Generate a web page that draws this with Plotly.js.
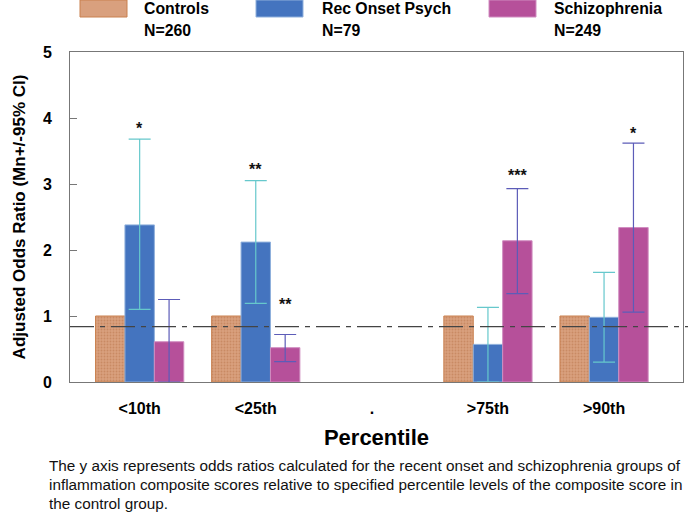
<!DOCTYPE html>
<html>
<head>
<meta charset="utf-8">
<script src="https://cdn.plot.ly/plotly-3.0.1.min.js"></script>
<style>
  html, body { margin: 0; padding: 0; background: #fff; }
  #chart { width: 688px; height: 512px; }
</style>
</head>
<body>
<div id="chart"></div>
<script>
// percentile categories
var categories = ['<10th', '<25th', '.', '>75th', '>90th'];
var catPos = [0, 1, 2, 3, 4];

// adjusted odds ratios (controls are the reference = 1)
var controlsOR = [1.0, 1.0, null, 1.0, 1.0];
var recOnsetOR = [2.38, 2.12, null, 0.57, 0.98];
var recOnsetHi = [3.68, 3.05, null, 1.13, 1.66];
var recOnsetLo = [1.10, 1.19, null, 0.0, 0.30];
var schizOR = [0.61, 0.52, null, 2.14, 2.34];
var schizHi = [1.25, 0.72, null, 2.93, 3.62];
var schizLo = [0.0, 0.31, null, 1.34, 1.06];

// significance stars: [category, series, label, y]
var starCat = [0, 1, 1, 3, 4];
var starSeries = [1, 1, 2, 2, 2];
var starText = ['*', '**', '**', '***', '*'];
var starY = [3.84, 3.22, 1.18, 3.13, 3.76];

var refLine = 0.84;

var legendNames = ['Controls', 'Rec Onset Psych', 'Schizophrenia'];
var legendN = ['N=260', 'N=79', 'N=249'];

var captionLines = [
	'The y axis represents odds ratios calculated for the recent onset and schizophrenia groups of',
	'inflammation composite scores relative to specified percentile levels of the composite score in',
	'the control group.'
];

var colControls = '#d9a07e';
var colRec = '#4474bf';
var colSchiz = '#b6509a';
var fontFam = '"Liberation Sans", Arial, sans-serif';

function diff(a, b, up) {
	var out = [];
	for (var i = 0; i < a.length; i++) {
		if (a[i] === null) { out.push(null); continue; }
		out.push(up ? b[i] - a[i] : a[i] - b[i]);
	}
	return out;
}

var data = [
	{
		x: catPos, y: controlsOR, type: 'bar', name: 'Controls',
		marker: {
			color: colControls,
			line: {color: '#c9804f', width: 1},
			pattern: {shape: '.', fgcolor: '#c98a63', bgcolor: colControls, size: 3, solidity: 0.3}
		}
	},
	{
		x: catPos, y: recOnsetOR, type: 'bar', name: 'Rec Onset Psych',
		marker: {color: colRec, line: {color: '#8fb0dc', width: 1}},
		error_y: {
			type: 'data', symmetric: false,
			array: diff(recOnsetOR, recOnsetHi, true),
			arrayminus: diff(recOnsetOR, recOnsetLo, false),
			color: '#66c8cc', thickness: 1.2, width: 11
		}
	},
	{
		x: catPos, y: schizOR, type: 'bar', name: 'Schizophrenia',
		marker: {color: colSchiz, line: {color: '#d08cc0', width: 1}},
		error_y: {
			type: 'data', symmetric: false,
			array: diff(schizOR, schizHi, true),
			arrayminus: diff(schizOR, schizLo, false),
			color: '#5c5cb8', thickness: 1.2, width: 11
		}
	}
];

var barW = 0.76 / 3;
var annotations = [];
for (var s = 0; s < starCat.length; s++) {
	annotations.push({
		x: starCat[s] + (starSeries[s] - 1) * barW, y: starY[s],
		xref: 'x', yref: 'y', text: '<b>' + starText[s] + '</b>', showarrow: false,
		font: {family: fontFam, size: 16, color: '#111'}
	});
}

// legend drawn at the top
var swatchX = [80, 256, 489];
var textX = [142, 320, 552];
var swatchCols = [colControls, colRec, colSchiz];
var swatchLines = ['#c9804f', '#8fb0dc', '#d08cc0'];
var shapes = [];
for (var k = 0; k < 3; k++) {
	shapes.push({
		type: 'rect', xref: 'paper', yref: 'paper', layer: 'above',
		x0: (swatchX[k] - 70) / 613, x1: (swatchX[k] + 47 - 70) / 613,
		y0: (382 - 17) / 330, y1: 382 / 330,
		fillcolor: swatchCols[k], line: {color: swatchLines[k], width: 1}
	});
	annotations.push({
		xref: 'paper', yref: 'paper', x: (textX[k] - 70) / 613, y: (382 - 9) / 330,
		xanchor: 'left', yanchor: 'middle', text: '<b>' + legendNames[k] + '</b>',
		showarrow: false, font: {family: fontFam, size: 15.8, color: '#000'}
	});
	annotations.push({
		xref: 'paper', yref: 'paper', x: (textX[k] - 70) / 613, y: (382 - 30) / 330,
		xanchor: 'left', yanchor: 'middle', text: '<b>' + legendN[k] + '</b>',
		showarrow: false, font: {family: fontFam, size: 15.8, color: '#000'}
	});
}

// reference dash-dot line
shapes.push({
	type: 'line', xref: 'paper', yref: 'y', x0: 0, x1: 618 / 613,
	y0: refLine, y1: refLine, layer: 'above',
	line: {color: '#444', width: 1.2, dash: '24px,6px,5px,6px'}
});

// caption, one annotation per line
for (var c = 0; c < captionLines.length; c++) {
	annotations.push({
		xref: 'paper', yref: 'paper', x: (47 - 70) / 613, y: (382 - (465 + 19 * c)) / 330,
		xanchor: 'left', yanchor: 'middle', align: 'left', showarrow: false,
		text: captionLines[c],
		font: {family: fontFam, size: 15.3, color: '#111'}
	});
}

var layout = {
	width: 688,
	height: 512,
	margin: {l: 70, r: 5, t: 52, b: 130},
	paper_bgcolor: '#fff',
	plot_bgcolor: '#fff',
	showlegend: false,
	barmode: 'group',
	bargap: 0.24,
	bargroupgap: 0,
	font: {family: fontFam, color: '#000'},
	xaxis: {
		range: [-0.6, 4.68],
		tickmode: 'array',
		tickvals: catPos,
		ticktext: categories.map(function(c) { return '<b>' + c + '</b>'; }),
		tickfont: {size: 16},
		ticklabelstandoff: 12,
		ticks: '',
		showgrid: false,
		zeroline: false,
		showline: true,
		linecolor: '#777',
		mirror: true,
		title: {text: '<b>Percentile</b>', font: {size: 22}, standoff: 13}
	},
	yaxis: {
		range: [0, 5],
		dtick: 1,
		tickfont: {size: 16},
		tickprefix: '<b>', ticksuffix: '</b>',
		ticklabelstandoff: 14,
		ticks: 'inside',
		ticklen: 7,
		tickcolor: '#777',
		showgrid: false,
		zeroline: false,
		showline: true,
		linecolor: '#777',
		mirror: true,
		title: {text: '<b>Adjusted Odds Ratio (Mn+/-95% CI)</b>', font: {size: 17}, standoff: 12}
	},
	shapes: shapes,
	annotations: annotations
};

Plotly.newPlot('chart', data, layout, {displayModeBar: false, staticPlot: true});
</script>
</body>
</html>
